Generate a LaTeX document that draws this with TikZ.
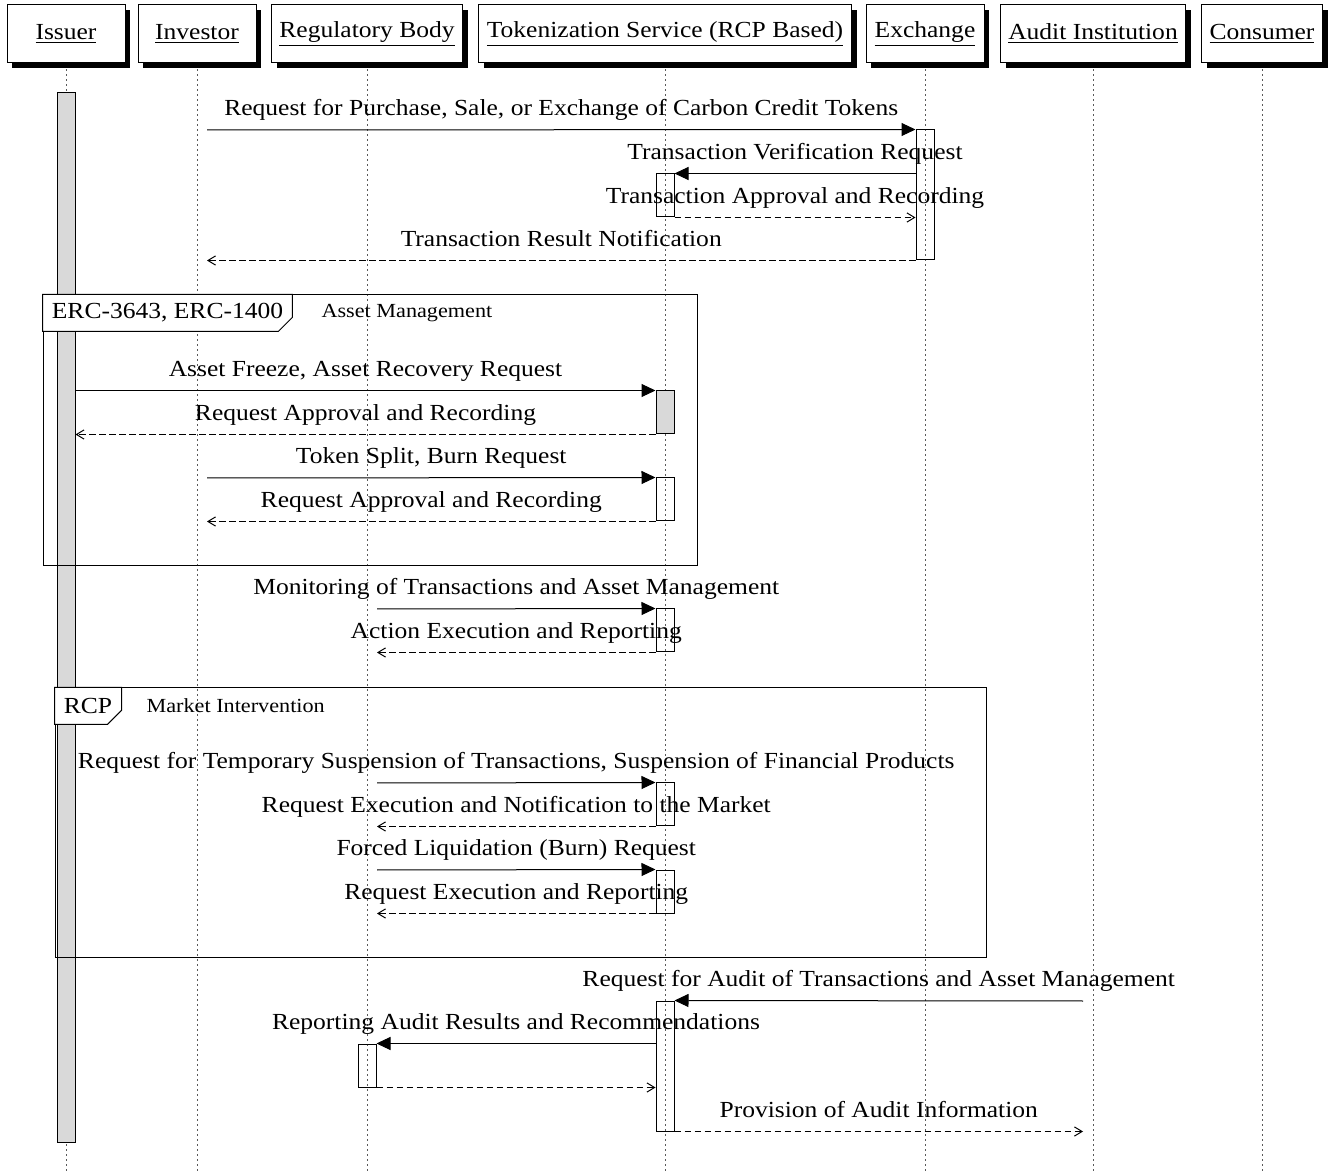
\documentclass[tikz,border=0pt]{standalone}
\usepackage{fontspec}
\setmainfont{Liberation Serif}[FakeStretch=1.11]
\usetikzlibrary{arrows.meta,positioning,fit,shadows}

\begin{document}
\begin{tikzpicture}[x=0.5pt, y=-0.5pt, font=\fontsize{11.5}{13.8}\selectfont,
  actor/.style={draw, fill=white, line width=0.5pt, minimum width=59pt, minimum height=29pt,
               inner xsep=4pt, general shadow={fill=black, shadow xshift=2.7pt, shadow yshift=-2.7pt}},
  life/.style={gray!70!black, line width=0.5pt, dash pattern=on 0.6pt off 1.9pt},
  bar/.style={draw, line width=0.5pt, inner sep=0pt},
  gbar/.style={bar, fill=gray!30},
  msg/.style={-{Triangle[length=7pt, width=6.5pt]}, line width=0.5pt},
  ret/.style={-{Straight Barb[length=3.8pt, width=4.6pt]}, line width=0.5pt,
              dash pattern=on 3.3pt off 1.7pt},
  lbl/.style={anchor=base, inner sep=0pt, yshift=7pt},
  frame/.style={draw, line width=0.5pt, inner sep=0pt},
  tag/.style={fill=white, minimum height=18pt, inner xsep=4.5pt, inner ysep=0pt, anchor=north west},
  frlbl/.style={font=\fontsize{10}{12}\selectfont, anchor=west}]
  \useasboundingbox (0,0) rectangle (1335,1171);
  \coordinate (bottom) at (0,1171);

  % participants
  \node[actor] (issuer)    at (66,34)   {\underline{Issuer}};
  \node[actor] (investor)  at (197,34)  {\underline{Investor}};
  \node[actor] (regulator) at (367,34)  {\underline{Regulatory Body}};
  \node[actor] (tokenizer) at (665,34)  {\underline{Tokenization Service (RCP Based)}};
  \node[actor] (exchange)  at (925,34)  {\underline{Exchange}};
  \node[actor] (auditor)   at (1093,34) {\underline{Audit Institution}};
  \node[actor] (consumer)  at (1262,34) {\underline{Consumer}};
  \foreach \n in {issuer,investor,regulator,tokenizer,exchange,auditor,consumer}
    \draw[life] ([yshift=-3pt]\n.south) -- (\n |- bottom);

  % activations
  \node[gbar, fit={(57,93) (75,1142)}]    (iss) {};
  \node[bar,  fit={(916,130) (934,260)}]  (ex1) {};
  \node[bar,  fit={(656,174) (674,217)}]  (tk1) {};
  \node[gbar, fit={(656,391) (674,434)}]  (tk2) {};
  \node[bar,  fit={(656,478) (674,521)}]  (tk3) {};
  \node[bar,  fit={(656,609) (674,652)}]  (tk4) {};
  \node[bar,  fit={(656,783) (674,826)}]  (tk5) {};
  \node[bar,  fit={(656,870) (674,913)}]  (tk6) {};
  \node[bar,  fit={(656,1001) (674,1131)}] (tk7) {};
  \node[bar,  fit={(358,1044) (376,1087)}] (rg1) {};

  \coordinate (inv1) at (207,130);
  \coordinate (inv3) at (207,478);
  \coordinate (reg1) at (377,609);
  \coordinate (reg2) at (377,783);
  \coordinate (reg3) at (377,870);
  \coordinate (aud1) at (1083,1001);

  % trading
  \draw[msg] (inv1) -- node[lbl]{Request for Purchase, Sale, or Exchange of Carbon Credit Tokens} (ex1.north west);
  \draw[msg] (ex1.west |- tk1.north) -- node[lbl]{Transaction Verification Request} (tk1.north east);
  \draw[ret] (tk1.south east) -- node[lbl]{Transaction Approval and Recording} (ex1.west |- tk1.south);
  \draw[ret] (ex1.south west) -- node[lbl]{Transaction Result Notification} (inv1 |- ex1.south);

  % asset management
  \draw[msg] (iss.east |- tk2.north) -- node[lbl]{Asset Freeze, Asset Recovery Request} (tk2.north west);
  \draw[ret] (tk2.south west) -- node[lbl]{Request Approval and Recording} (iss.east |- tk2.south);
  \draw[msg] (inv3) -- node[lbl]{Token Split, Burn Request} (tk3.north west);
  \draw[ret] (tk3.south west) -- node[lbl]{Request Approval and Recording} (inv3 |- tk3.south);

  \draw[msg] (reg1) -- node[lbl]{Monitoring of Transactions and Asset Management} (tk4.north west);
  \draw[ret] (tk4.south west) -- node[lbl]{Action Execution and Reporting} (reg1 |- tk4.south);

  % market intervention
  \draw[msg] (reg2) -- node[lbl]{Request for Temporary Suspension of Transactions, Suspension of Financial Products} (tk5.north west);
  \draw[ret] (tk5.south west) -- node[lbl]{Request Execution and Notification to the Market} (reg2 |- tk5.south);
  \draw[msg] (reg3) -- node[lbl]{Forced Liquidation (Burn) Request} (tk6.north west);
  \draw[ret] (tk6.south west) -- node[lbl]{Request Execution and Reporting} (reg3 |- tk6.south);

  % audit
  \draw[msg] (aud1) -- node[lbl]{Request for Audit of Transactions and Asset Management} (tk7.north east);
  \draw[msg] (tk7.west |- rg1.north) -- node[lbl]{Reporting Audit Results and Recommendations} (rg1.north east);
  \draw[ret] (rg1.south east) -- (tk7.west |- rg1.south);
  \draw[ret] (tk7.south east) -- node[lbl]{Provision of Audit Information} (aud1 |- tk7.south);

  % frames
  \node[frame, fit={(43,295) (697,566)}] (fr1) {};
  \node[tag] (tag1) at (fr1.north west) {ERC-3643, ERC-1400};
  \draw[line width=0.5pt] (tag1.south west) -- (tag1.north west) -- (tag1.north east)
    -- ([yshift=7pt]tag1.south east) -- ([xshift=-7pt]tag1.south east) -- cycle;
  \node[frlbl] (fl1) at ([xshift=11pt]tag1.east) {Asset Management};

  \node[frame, fit={(55,688) (986,957)}] (fr2) {};
  \node[tag] (tag2) at (fr2.north west) {RCP};
  \draw[line width=0.5pt] (tag2.south west) -- (tag2.north west) -- (tag2.north east)
    -- ([yshift=7pt]tag2.south east) -- ([xshift=-7pt]tag2.south east) -- cycle;
  \node[frlbl] (fl2) at ([xshift=9pt]tag2.east) {Market Intervention};
\end{tikzpicture}
\end{document}
